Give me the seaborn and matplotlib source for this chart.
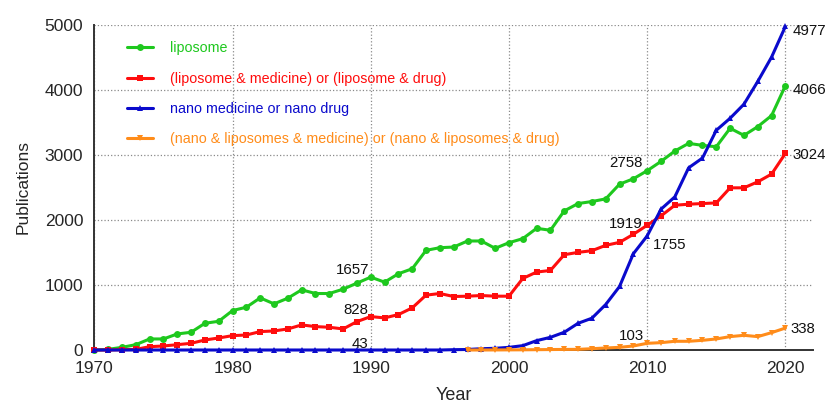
import pandas as pd
import matplotlib.pyplot as plt
import seaborn as sns

sns.set_style("white")
plt.rcParams["font.family"] = ["Liberation Sans", "DejaVu Sans"]

# Publications per year
years = list(range(1970, 2021))

liposome = [0, 10, 41, 82, 170, 170, 247, 273, 411, 442,
            607, 658, 802, 710, 797, 926, 869, 869, 936, 1029,
            1121, 1044, 1173, 1250, 1533, 1574, 1584, 1677, 1677, 1564,
            1651, 1713, 1872, 1842, 2140, 2253, 2284, 2325, 2551, 2634,
            2758, 2901, 3061, 3179, 3148, 3127, 3411, 3302, 3436, 3606,
            4066]

lipo_med_drug = [0, 0, 5, 10, 51, 62, 82, 103, 154, 185,
                 221, 231, 283, 293, 324, 386, 360, 350, 324, 437,
                 514, 494, 545, 648, 844, 869, 823, 828, 838, 828,
                 828, 1101, 1199, 1224, 1466, 1502, 1528, 1610, 1656, 1780,
                 1919, 2063, 2227, 2243, 2253, 2263, 2495, 2495, 2587, 2706,
                 3024]

nano_med_drug = [0, 0, 0, 0, 0, 0, 0, 0, 0, 0,
                 0, 0, 0, 0, 0, 0, 0, 0, 0, 0,
                 0, 0, 0, 0, 0, 0, 5, 8, 20, 26,
                 41, 67, 144, 195, 273, 411, 489, 700, 977, 1481,
                 1755, 2166, 2356, 2803, 2953, 3380, 3565, 3781, 4131, 4506,
                 4977]

nano_lipo_med_drug = [None, None, None, None, None, None, None, None, None, None,
                      None, None, None, None, None, None, None, None, None, None,
                      None, None, None, None, None, None, None, 0, 0, 1,
                      2, 3, 5, 7, 9, 10, 20, 31, 41, 62,
                      103, 113, 134, 134, 149, 170, 206, 226, 206, 267,
                      338]

series_labels = [
    "liposome",
    "(liposome & medicine) or (liposome & drug)",
    "nano medicine or nano drug",
    "(nano & liposomes & medicine) or (nano & liposomes & drug)",
]
series_colors = ["#1ec81e", "#ff0d0d", "#0a0acc", "#ff8c1a"]
series_markers = ["o", "s", "^", "v"]

# value labels: (year, value, text, ha)
annotations = [
    (1989.9, 1173, "1657", "right"),
    (1989.8, 555, "828", "right"),
    (1989.8, 35, "43", "right"),
    (2009.7, 2808, "2758", "right"),
    (2009.7, 1882, "1919", "right"),
    (2010.4, 1558, "1755", "left"),
    (2009.8, 154, "103", "right"),
    (2020.5, 4845, "4977", "left"),
    (2020.5, 3945, "4066", "left"),
    (2020.5, 2932, "3024", "left"),
    (2020.4, 258, "338", "left"),
]

df = pd.DataFrame({
    "Year": years,
    series_labels[0]: liposome,
    series_labels[1]: lipo_med_drug,
    series_labels[2]: nano_med_drug,
    series_labels[3]: nano_lipo_med_drug,
})

fig = plt.figure(figsize=(8.26, 4.03), dpi=100)
ax = fig.add_axes([0.1142, 0.1315, 0.8701, 0.8065])

for label, color, marker in zip(series_labels, series_colors, series_markers):
    sub = df[["Year", label]].dropna()
    sns.lineplot(data=sub, x="Year", y=label, ax=ax, color=color,
                 marker=marker, markersize=5, markeredgewidth=0,
                 linewidth=2.2, label=label, clip_on=False, zorder=3)

for x, y, text, ha in annotations:
    ax.text(x, y, text, ha=ha, va="baseline", fontsize=10.8, color="#111111")

ax.set_xlim(1970, 2022)
ax.set_ylim(0, 5000)
ax.set_xticks([1970, 1980, 1990, 2000, 2010, 2020])
ax.set_yticks([0, 1000, 2000, 3000, 4000, 5000])
ax.grid(True, linestyle=":", color="#8a8a8a", linewidth=0.9)
ax.tick_params(axis="both", labelsize=12.5, length=5, width=1.2,
               direction="out", color="#333333", pad=3)
for side in ["top", "right"]:
    ax.spines[side].set_visible(False)
for side in ["left", "bottom"]:
    ax.spines[side].set_color("#333333")
    ax.spines[side].set_linewidth(1.4)

ax.set_xlabel("Year", fontsize=13, labelpad=8)
ax.set_ylabel("Publications", fontsize=12.5, labelpad=10)

leg = ax.legend(loc="upper left", bbox_to_anchor=(0.1538, 0.898),
                bbox_transform=fig.transFigure, frameon=False, fontsize=10.3,
                handlelength=1.8, handletextpad=1.2, labelspacing=1.15,
                borderpad=0, borderaxespad=0, labelcolor="linecolor")

fig.savefig("out.png", dpi=100)
